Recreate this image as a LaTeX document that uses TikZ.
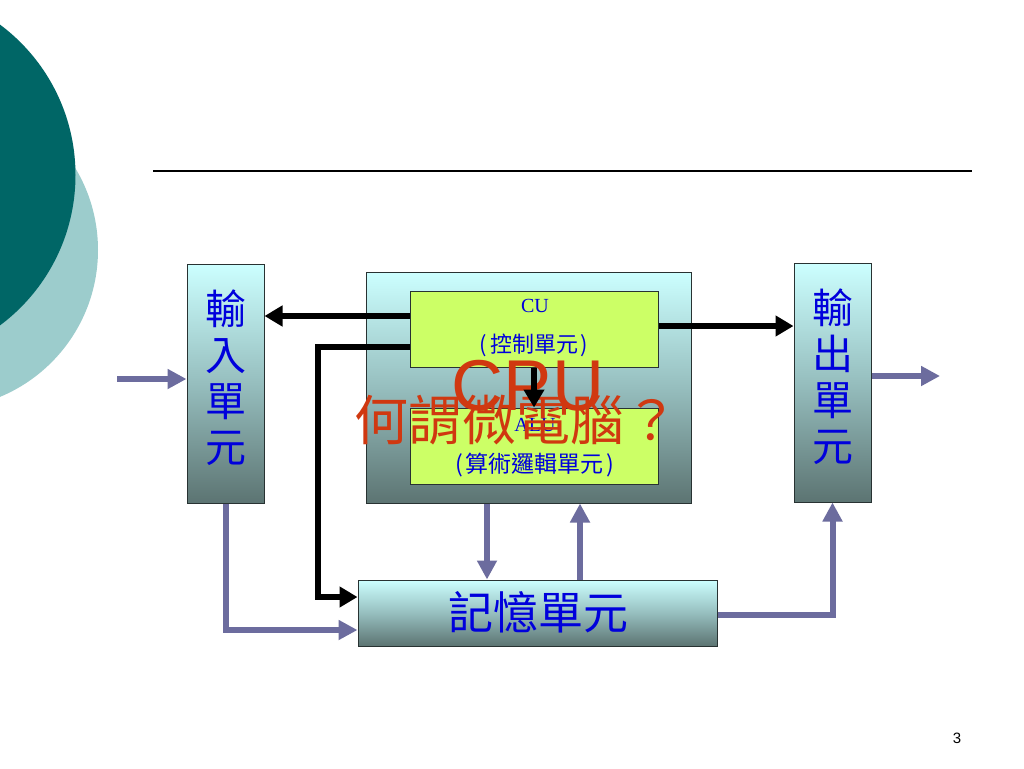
\documentclass[tikz,border=0pt]{standalone}
\usepackage{fontspec}
\setmainfont{Liberation Serif}
\newfontfamily\cjk{Noto Sans CJK TC}
\newfontfamily\arial{Liberation Sans}
\usetikzlibrary{arrows.meta}
\definecolor{darkteal}{RGB}{0,102,102}
\definecolor{lightteal}{RGB}{156,204,204}
\definecolor{boxtop}{RGB}{204,255,255}
\definecolor{boxbot}{RGB}{92,116,114}
\definecolor{boxmid}{RGB}{150,190,190}
\definecolor{cuyellow}{RGB}{204,255,102}
\definecolor{txtblue}{RGB}{0,0,220}
\definecolor{redorange}{RGB}{208,56,16}
\definecolor{purp}{RGB}{108,108,158}
\definecolor{bordergrey}{RGB}{40,50,50}
\tikzset{
  gradbox/.style={draw=bordergrey, line width=1pt, top color=boxtop, bottom color=boxbot, middle color=boxmid, inner sep=0pt},
  unitbox/.style={draw=bordergrey, line width=1pt, fill=cuyellow, inner sep=0pt},
  blackarrow/.style={line width=6pt, black, -{Triangle[length=18pt,width=20pt]}},
  purparrow/.style={line width=6pt, purp, -{Triangle[length=19pt,width=19pt]}},
  bluetxt/.style={text=txtblue, align=center}
}
\begin{document}
\begin{tikzpicture}[x=1pt,y=-1pt]
\useasboundingbox (0,0) rectangle (1024,768);
\clip (0,0) rectangle (1024,768);
\fill[white] (0,0) rectangle (1024,768);
% decorative circles
\fill[lightteal] (-61,250) circle (159);
\fill[darkteal] (-112,175) circle (187.5);
% title rule
\coordinate (l1) at (153,171);
\coordinate (l2) at (972,171);
\draw[line width=1.5pt] (l1) -- (l2);
% boxes
\node[gradbox, minimum width=77pt, minimum height=239pt] (in) at (225.5,383.5) {};
\node[bluetxt, font=\cjk\fontsize{41}{46}\selectfont] (intxt) at (225.5,378) {輸\\入\\單\\元};
\node[gradbox, minimum width=77pt, minimum height=239pt] (out) at (832.5,382.5) {};
\node[bluetxt, font=\cjk\fontsize{41}{46}\selectfont] (outtxt) at (832.5,377) {輸\\出\\單\\元};
\node[gradbox, minimum width=325pt, minimum height=231pt] (cpu) at (528.5,387.5) {};
\node[unitbox, minimum width=248pt, minimum height=76pt] (cu) at (534,329) {};
\node[bluetxt, font=\fontsize{20}{20}\selectfont] (cut1) at (535,306) {CU};
\node[bluetxt, font=\cjk\fontsize{22}{22}\selectfont] (cut2) at (534,345) {(\hspace{3pt}控制單元\hspace{3pt})};
\node[unitbox, minimum width=248pt, minimum height=76pt] (alu) at (534,446) {};
\node[bluetxt, font=\fontsize{20}{20}\selectfont] (alut1) at (535,425) {ALU};
\node[bluetxt, font=\cjk\fontsize{23}{23}\selectfont] (alut2) at (535,465) {(\hspace{3pt}算術邏輯單元\hspace{3pt})};
\node[gradbox, minimum width=359pt, minimum height=66pt] (mem) at (537.5,613) {};
\node[bluetxt, font=\cjk\fontsize{45}{45}\selectfont] (memtxt) at (538.5,612) {記憶單元};
% red overlay text
\node[text=redorange, font=\arial\fontsize{72}{72}\selectfont, inner sep=0pt] (cputxt) at (528,386) {CPU};
\node[text=redorange, font=\cjk\fontsize{54}{54}\selectfont, inner sep=0pt] (title) at (516,420) {何謂微電腦？};
% black connectors
\draw[blackarrow] (cu.south) -- (alu.north);
\draw[blackarrow] ([yshift=13pt]cu.west) -- ([yshift=13pt]cu.west -| in.east);
\draw[blackarrow] ([yshift=3pt]cu.east) -- ([yshift=3pt]cu.east -| out.west);
\coordinate (bend1) at (318,597);
\draw[blackarrow] ([yshift=-18pt]cu.west) -| (bend1) -- ([yshift=16pt]mem.west);
% purple connectors
\coordinate (insrc) at (117,379);
\coordinate (outdst) at (940,376);
\draw[purparrow] (insrc) -- (insrc -| in.west);
\draw[purparrow] (out.east |- outdst) -- (outdst);
\draw[purparrow] (in.south) |- ([yshift=-17pt]mem.west);
\draw[purparrow] ([xshift=-41.5pt]cpu.south) -- ([xshift=-41.5pt]cpu.south |- mem.north);
\draw[purparrow] ([xshift=51.5pt]cpu.south |- mem.north) -- ([xshift=51.5pt]cpu.south);
\draw[purparrow] ([yshift=-2pt]mem.east) -| (out.south);
% page number
\node[font=\arial\fontsize{15}{15}\selectfont, inner sep=0pt] (pnum) at (957,738) {3};
\end{tikzpicture}
\end{document}
